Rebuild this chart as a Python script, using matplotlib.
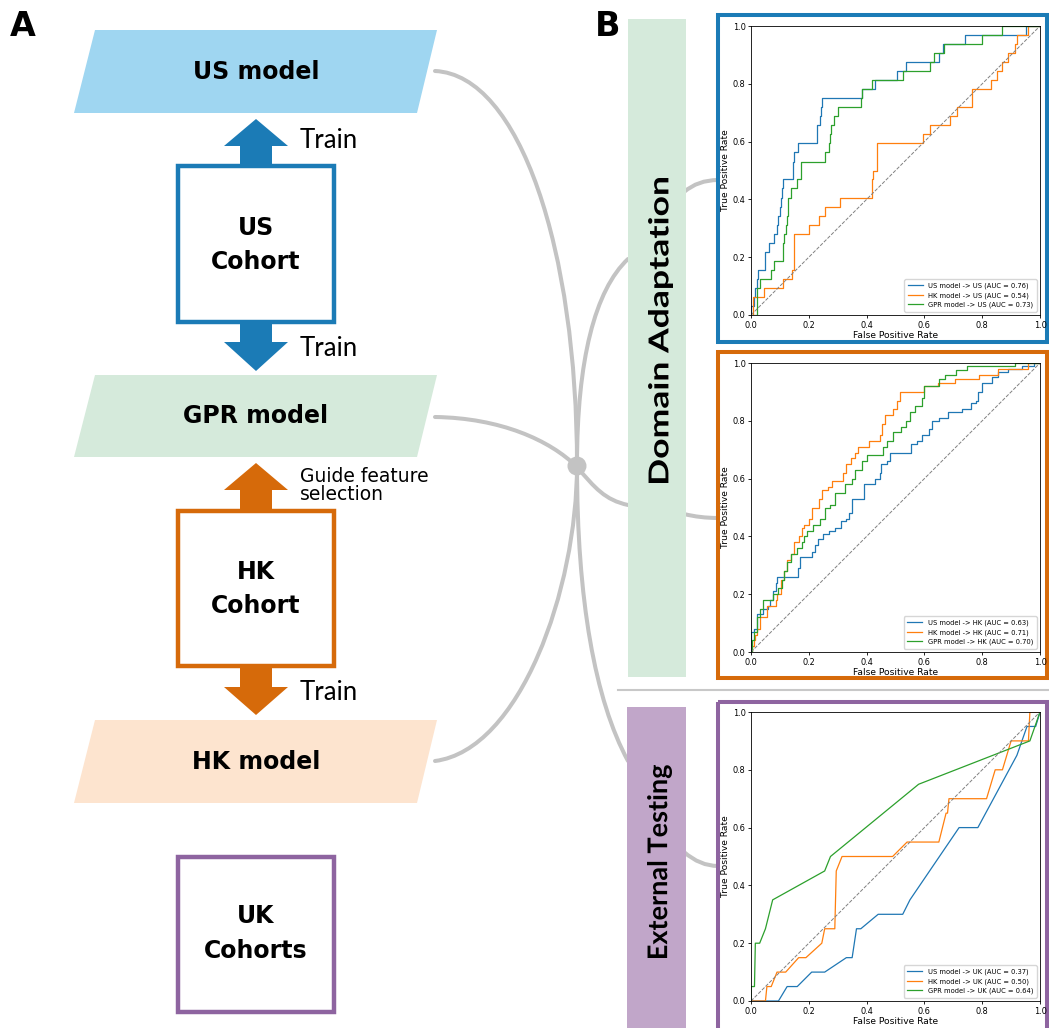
import numpy as np
import matplotlib
matplotlib.use("Agg")
import matplotlib.pyplot as plt
from matplotlib.patches import Polygon, Rectangle, Circle, PathPatch
from matplotlib.path import Path
from matplotlib.textpath import TextPath
from matplotlib.font_manager import FontProperties
from matplotlib.transforms import Affine2D

W, H = 1049, 1028

# ---- ROC data: US cohort test set (step curves, jump points) ----
us_us_fpr = [0, 0, 0.01, 0.015, 0.02, 0.025, 0.047, 0.05, 0.063, 0.078, 0.09, 0.095, 0.1, 0.103, 0.107, 0.11,
             0.145, 0.148, 0.163, 0.23, 0.24, 0.243, 0.246, 0.385, 0.43, 0.505, 0.535, 0.65, 0.665, 0.74, 0.95, 1.0]
us_us_tpr = [0, 0.031, 0.0625, 0.094, 0.125, 0.156, 0.1875, 0.219, 0.25, 0.281, 0.3125, 0.344, 0.375, 0.406, 0.438, 0.469,
             0.531, 0.5625, 0.594, 0.656, 0.6875, 0.719, 0.75, 0.781, 0.8125, 0.844, 0.875, 0.906, 0.9375, 0.969, 1.0, 1.0]
hk_us_fpr = [0, 0.007, 0.046, 0.11, 0.143, 0.148, 0.2, 0.235, 0.255, 0.308, 0.42, 0.423, 0.437, 0.596, 0.62, 0.69,
             0.712, 0.764, 0.766, 0.83, 0.85, 0.87, 0.89, 0.915, 0.919, 0.96, 1.0]
hk_us_tpr = [0, 0.0625, 0.094, 0.125, 0.156, 0.281, 0.3125, 0.344, 0.375, 0.406, 0.469, 0.5, 0.594, 0.625, 0.656, 0.6875,
             0.719, 0.75, 0.781, 0.8125, 0.844, 0.875, 0.906, 0.9375, 0.969, 1.0, 1.0]
gpr_us_fpr = [0, 0.021, 0.03, 0.07, 0.078, 0.112, 0.115, 0.12, 0.123, 0.127, 0.14, 0.158, 0.173, 0.256, 0.27, 0.275,
              0.278, 0.288, 0.3, 0.38, 0.385, 0.418, 0.527, 0.62, 0.634, 0.667, 0.798, 0.867, 1.0]
gpr_us_tpr = [0, 0.094, 0.125, 0.156, 0.1875, 0.25, 0.281, 0.3125, 0.344, 0.406, 0.438, 0.469, 0.531, 0.5625, 0.594, 0.625,
              0.656, 0.6875, 0.719, 0.75, 0.781, 0.8125, 0.844, 0.875, 0.906, 0.9375, 0.969, 1.0, 1.0]

# ---- HK cohort test set ----
us_hk_fpr = [0, 0, 0.01, 0.02, 0.04, 0.06, 0.065, 0.075, 0.085, 0.09, 0.164, 0.17, 0.21, 0.22, 0.233, 0.25, 0.27, 0.29,
             0.31, 0.33, 0.34, 0.348, 0.39, 0.43, 0.445, 0.45, 0.47, 0.48, 0.555, 0.575, 0.59, 0.615, 0.625, 0.65, 0.683,
             0.73, 0.76, 0.78, 0.787, 0.8, 0.833, 0.856, 0.89, 0.937, 0.98, 1.0]
us_hk_tpr = [0, 0.07, 0.08, 0.13, 0.15, 0.16, 0.18, 0.21, 0.24, 0.26, 0.29, 0.33, 0.345, 0.37, 0.39, 0.41, 0.42, 0.43,
             0.455, 0.46, 0.48, 0.53, 0.58, 0.6, 0.62, 0.65, 0.66, 0.69, 0.72, 0.73, 0.75, 0.77, 0.8, 0.81, 0.83,
             0.84, 0.86, 0.87, 0.9, 0.93, 0.95, 0.97, 0.98, 0.99, 1.0, 1.0]
hk_hk_fpr = [0, 0.005, 0.01, 0.015, 0.02, 0.03, 0.055, 0.085, 0.09, 0.105, 0.115, 0.125, 0.14, 0.15, 0.165, 0.175, 0.185,
             0.2, 0.21, 0.235, 0.245, 0.265, 0.28, 0.32, 0.33, 0.345, 0.36, 0.37, 0.41, 0.445, 0.455, 0.465, 0.49,
             0.505, 0.515, 0.6, 0.648, 0.705, 0.79, 0.856, 0.96, 1.0]
hk_hk_tpr = [0, 0.02, 0.04, 0.06, 0.08, 0.12, 0.16, 0.18, 0.2, 0.25, 0.28, 0.32, 0.34, 0.38, 0.4, 0.43, 0.44,
             0.46, 0.5, 0.53, 0.56, 0.57, 0.59, 0.62, 0.65, 0.67, 0.69, 0.71, 0.73, 0.75, 0.79, 0.82, 0.84,
             0.87, 0.9, 0.92, 0.93, 0.945, 0.96, 0.98, 1.0, 1.0]
gpr_hk_fpr = [0, 0.005, 0.01, 0.02, 0.03, 0.043, 0.075, 0.095, 0.106, 0.115, 0.123, 0.14, 0.158, 0.175, 0.185, 0.193,
              0.216, 0.24, 0.256, 0.275, 0.29, 0.325, 0.348, 0.36, 0.383, 0.4, 0.458, 0.47, 0.49, 0.52, 0.535, 0.55,
              0.567, 0.59, 0.6, 0.65, 0.67, 0.71, 0.746, 0.913, 1.0]
gpr_hk_tpr = [0, 0.04, 0.07, 0.12, 0.15, 0.18, 0.2, 0.22, 0.25, 0.28, 0.31, 0.34, 0.36, 0.38, 0.4, 0.42,
              0.44, 0.46, 0.5, 0.51, 0.55, 0.58, 0.6, 0.63, 0.66, 0.68, 0.71, 0.73, 0.76, 0.78, 0.8, 0.83,
              0.85, 0.88, 0.92, 0.945, 0.96, 0.975, 0.99, 1.0, 1.0]

# ---- UK cohorts (external test, interpolated curves) ----
us_uk_fpr = [0, 0.095, 0.125, 0.16, 0.21, 0.255, 0.33, 0.35, 0.365, 0.38, 0.44, 0.525, 0.55, 0.72, 0.785, 0.92, 0.955, 0.985, 1.0]
us_uk_tpr = [0, 0, 0.05, 0.05, 0.1, 0.1, 0.15, 0.15, 0.25, 0.25, 0.3, 0.3, 0.35, 0.6, 0.6, 0.85, 0.95, 0.95, 1.0]
hk_uk_fpr = [0, 0.05, 0.055, 0.07, 0.09, 0.12, 0.165, 0.19, 0.245, 0.255, 0.29, 0.295, 0.315, 0.49, 0.54, 0.65, 0.675,
             0.68, 0.685, 0.815, 0.845, 0.87, 0.9, 0.96, 0.965, 1.0]
hk_uk_tpr = [0, 0, 0.05, 0.05, 0.1, 0.1, 0.15, 0.15, 0.2, 0.25, 0.25, 0.45, 0.5, 0.5, 0.55, 0.55, 0.65,
             0.65, 0.7, 0.7, 0.8, 0.8, 0.9, 0.9, 1.0, 1.0]
gpr_uk_fpr = [0, 0, 0.012, 0.015, 0.03, 0.05, 0.075, 0.255, 0.275, 0.58, 0.965, 1.0]
gpr_uk_tpr = [0, 0.05, 0.05, 0.2, 0.2, 0.25, 0.35, 0.45, 0.5, 0.75, 0.9, 1.0]

us_labels = ["US model -> US (AUC = 0.76)", "HK model -> US (AUC = 0.54)", "GPR model -> US (AUC = 0.73)"]
hk_labels = ["US model -> HK (AUC = 0.63)", "HK model -> HK (AUC = 0.71)", "GPR model -> HK (AUC = 0.70)"]
uk_labels = ["US model -> UK (AUC = 0.37)", "HK model -> UK (AUC = 0.50)", "GPR model -> UK (AUC = 0.64)"]

BLUE = "#1b7bb6"
ORANGE = "#d66a0a"
PURPLE = "#8e64a0"
GREY = "#c3c3c3"
BOLD = dict(fontsize=17, fontweight="bold", family="DejaVu Sans")

fig = plt.figure(figsize=(W / 100, H / 100), dpi=100)
fig.patch.set_facecolor("white")
cv = fig.add_axes([0, 0, 1, 1])
cv.set_xlim(0, W)
cv.set_ylim(H, 0)
cv.axis("off")


def para(y0, y1, color, label, ty):
    cv.add_patch(Polygon([(95, y0), (437, y0), (417, y1), (74, y1)], closed=True, fc=color, ec="none"))
    cv.text(256, ty, label, ha="center", va="center", **BOLD)


def arrow(tip, base, end, color):
    cx = 256
    pts = [(cx, tip), (cx + 32, base), (cx + 16, base), (cx + 16, end),
           (cx - 16, end), (cx - 16, base), (cx - 32, base)]
    cv.add_patch(Polygon(pts, closed=True, fc=color, ec="none"))


def box(y0, y1, color, lines, ty):
    cv.add_patch(Rectangle((178, y0), 156, y1 - y0, fc="white", ec=color, lw=3.2))
    for txt, y in zip(lines, ty):
        cv.text(256, y, txt, ha="center", va="center", **BOLD)


def curve(pts, codes, lw=2.9):
    cv.add_patch(PathPatch(Path(pts, codes), fc="none", ec=GREY, lw=lw, capstyle="round"))


C4 = [Path.MOVETO, Path.CURVE4, Path.CURVE4, Path.CURVE4]
C3 = [Path.MOVETO, Path.CURVE3, Path.CURVE3]

# grey connectors behind everything
curve([(435, 71), (520, 75), (577, 250), (577, 465)], C4)
curve([(577, 465), (577, 600), (595, 700), (628, 761)], C4)
curve([(435, 761), (520, 750), (577, 590), (577, 465)], C4)
curve([(577, 465), (577, 360), (595, 290), (628, 259)], C4)
curve([(435, 417), (500, 418), (550, 440), (577, 467)], C4)
curve([(577, 467), (595, 488), (605, 500), (628, 505)], C4)
curve([(684, 192), (698, 180), (718, 180)], C3)
curve([(684, 514), (700, 518), (718, 518)], C3)
curve([(684, 852), (700, 866), (718, 866)], C3)
cv.add_patch(Circle((577, 466), 9.5, fc=GREY, ec="none"))

# panel A
cv.text(23, 27, "A", ha="center", va="center", fontsize=24, fontweight="bold", family="DejaVu Sans")
para(30, 113, "#9fd6f1", "US model", 72)
arrow(119, 146, 170, BLUE)
arrow(371, 342, 318, BLUE)
box(166, 322, BLUE, ["US", "Cohort"], [228, 262])
cv.text(300, 140, "Train", ha="left", va="center", fontsize=18.5, family="Lato")
cv.text(300, 348, "Train", ha="left", va="center", fontsize=18.5, family="Lato")

para(375, 457, "#d5eadb", "GPR model", 416)
arrow(463, 490, 515, ORANGE)
arrow(715, 687, 662, ORANGE)
box(511, 666, ORANGE, ["HK", "Cohort"], [572, 606])
cv.text(300, 476, "Guide feature", ha="left", va="center", fontsize=13.5, family="DejaVu Sans")
cv.text(300, 494, "selection", ha="left", va="center", fontsize=13.5, family="DejaVu Sans")
cv.text(300, 692, "Train", ha="left", va="center", fontsize=18.5, family="Lato")

para(720, 803, "#fde4cf", "HK model", 762)
box(857, 1012, PURPLE, ["UK", "Cohorts"], [916, 951])

# panel B
cv.text(608, 26, "B", ha="center", va="center", fontsize=24, fontweight="bold", family="DejaVu Sans")
cv.add_patch(Rectangle((628, 19), 58, 658, fc="#d5eadb", ec="none"))
cv.add_patch(Rectangle((627, 707), 59, 330, fc="#c1a6c9", ec="none"))
cv.plot([618, W], [690, 690], color="#c8c8c8", lw=1.5)


def side_label(text, x0, x1, y0, y1):
    # bold label stretched to fill the bar, reading bottom to top
    tp = TextPath((0, 0), text, size=10, prop=FontProperties(family="Lato", weight="bold"))
    ext = tp.get_extents()
    tr = Affine2D().translate(-ext.x0, -ext.y0).scale((y1 - y0) / ext.width, (x1 - x0) / ext.height)
    tr = tr + Affine2D(np.array([[0, -1, x1], [-1, 0, y1], [0, 0, 1.0]]))
    cv.add_patch(PathPatch(tr.transform_path(tp), fc="black", ec="none", lw=0))


side_label("Domain Adaptation", 648, 673, 178, 483)
side_label("External Testing", 647, 672, 765, 958)

cv.add_patch(Rectangle((718, 15), 329, 327, fill=False, ec=BLUE, lw=2.9))
cv.add_patch(Rectangle((718, 352), 329, 326, fill=False, ec=ORANGE, lw=2.9))
cv.add_patch(Rectangle((718, 702), 329, 332, fill=False, ec=PURPLE, lw=2.9))


def roc_panel(top, curves, labels, steps):
    ax = fig.add_axes([751 / W, (H - top - 289) / H, 289 / W, 289 / H])
    ds = "steps-post" if steps else "default"
    for (f, t), lab, col in zip(curves, labels, ["tab:blue", "tab:orange", "tab:green"]):
        ax.plot(f, t, color=col, lw=0.9, label=lab, drawstyle=ds)
    ax.plot([0, 1], [0, 1], color="grey", ls="--", lw=0.7)
    ax.set_xlim(0, 1)
    ax.set_ylim(0, 1)
    ax.set_xlabel("False Positive Rate", fontsize=6.6, labelpad=1)
    ax.set_ylabel("True Positive Rate", fontsize=6.6, labelpad=2)
    ax.tick_params(labelsize=5.9, length=2.5, width=0.6, pad=1.5)
    for s in ax.spines.values():
        s.set_linewidth(0.6)
    ax.legend(loc="lower right", fontsize=4.9, handlelength=2.2, borderpad=0.5, labelspacing=0.45)
    return ax


roc_panel(26, [(us_us_fpr, us_us_tpr), (hk_us_fpr, hk_us_tpr), (gpr_us_fpr, gpr_us_tpr)], us_labels, True)
roc_panel(363, [(us_hk_fpr, us_hk_tpr), (hk_hk_fpr, hk_hk_tpr), (gpr_hk_fpr, gpr_hk_tpr)], hk_labels, True)
roc_panel(712, [(us_uk_fpr, us_uk_tpr), (hk_uk_fpr, hk_uk_tpr), (gpr_uk_fpr, gpr_uk_tpr)], uk_labels, False)

fig.savefig("out.png", dpi=100, facecolor="white")
